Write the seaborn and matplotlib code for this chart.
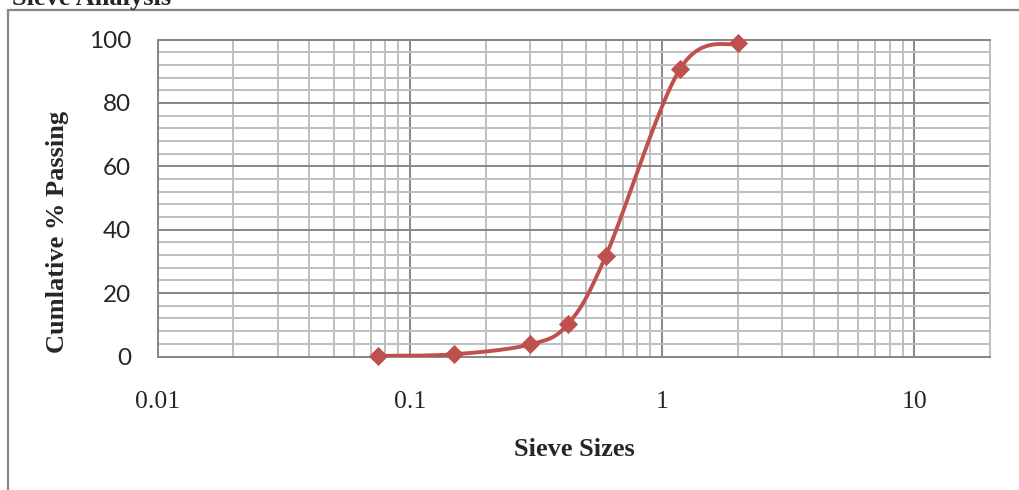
import numpy as np
import matplotlib
matplotlib.use("Agg")
import matplotlib.pyplot as plt
import matplotlib.ticker as ticker
from matplotlib.patches import Rectangle
import seaborn as sns

# sieve analysis data
sieve_mm = [0.075, 0.15, 0.3, 0.425, 0.6, 1.18, 2.0]
passing = [0.2, 0.7, 3.8, 10.3, 31.8, 90.7, 98.8]
x_ticks = [0.01, 0.1, 1, 10]
y_ticks = [0, 20, 40, 60, 80, 100]

RED = "#c0504d"
MAJ = "#878787"
MIN = "#bfbfbf"
SERIF = "Liberation Serif"


def smooth_curve(xs, ys, n=40):
    # catmull-rom bezier in log-x space (like excel's "smoothed line")
    pts = np.column_stack([np.log10(xs), np.asarray(ys, float)])
    pts = np.vstack([pts[0], pts, pts[-1]])
    t = np.linspace(0, 1, n)[:, None]
    seg = []
    for i in range(1, len(pts) - 2):
        p0, p1, p2, p3 = pts[i - 1], pts[i], pts[i + 1], pts[i + 2]
        b1 = p1 + (p2 - p0) / 6
        b2 = p2 - (p3 - p1) / 6
        c = ((1 - t) ** 3) * p1 + 3 * ((1 - t) ** 2) * t * b1 + 3 * (1 - t) * t ** 2 * b2 + t ** 3 * p2
        seg.append(c if i == 1 else c[1:])
    c = np.vstack(seg)
    return 10 ** c[:, 0], c[:, 1]


sns.set_style("white")
plt.rcParams["font.family"] = ["Lato", "DejaVu Sans"]

fig = plt.figure(figsize=(10.2, 4.9), dpi=100)
ax = fig.add_axes([157.5 / 1020, 1 - 356.5 / 490, (990 - 157.5) / 1020, (356.5 - 39.5) / 490])

ax.set_xscale("log")
ax.set_xlim(0.01, 20)
ax.set_ylim(0, 100)

ax.xaxis.set_major_locator(ticker.FixedLocator(x_ticks))
ax.xaxis.set_minor_locator(ticker.LogLocator(base=10, subs=np.arange(2, 10)))
ax.xaxis.set_major_formatter(ticker.FuncFormatter(lambda v, p: f"{v:g}"))
ax.xaxis.set_minor_formatter(ticker.NullFormatter())
ax.yaxis.set_major_locator(ticker.FixedLocator(y_ticks))
ax.yaxis.set_minor_locator(ticker.MultipleLocator(4))

ax.grid(which="minor", color=MIN, lw=1.4)
ax.grid(which="major", color=MAJ, lw=1.4)
ax.set_axisbelow(True)
ax.tick_params(which="both", length=0)
ax.tick_params(axis="y", pad=19, labelsize=17.5)
ax.tick_params(axis="x", pad=25, labelsize=18.5)
for lab in ax.get_xticklabels():
    lab.set_fontfamily(SERIF)

for s in ["left", "bottom", "top"]:
    ax.spines[s].set_color(MAJ)
    ax.spines[s].set_linewidth(1.4)
ax.spines["right"].set_color(MIN)
ax.spines["right"].set_linewidth(1.4)

cx, cy = smooth_curve(sieve_mm, passing)
sns.lineplot(x=cx, y=cy, sort=False, color=RED, lw=2.8, ax=ax, zorder=3)
sns.scatterplot(x=sieve_mm, y=passing, marker="D", s=95, color=RED,
                edgecolor=RED, linewidth=0, ax=ax, zorder=4, clip_on=False)

fig.text(574 / 1020, 1 - 449 / 490, "Sieve Sizes", ha="center", va="center",
         family=SERIF, fontweight="bold", fontsize=19)
fig.text(57.5 / 1020, 1 - 231.5 / 490, "Cumlative % Passing", ha="center", va="center",
         rotation=90, family=SERIF, fontweight="bold", fontsize=19)
# chart title, partly above the top edge as in the original screenshot
fig.text(12 / 1020, 1 - 4.5 / 490, "Sieve Analysis", ha="left", va="baseline",
         family=SERIF, fontweight="bold", fontsize=19)

# outer chart frame (runs off the right / bottom edges)
fig.patches.append(Rectangle((8 / 1020, -0.1), 1.2, 1.1 - 10.5 / 490, transform=fig.transFigure,
                             fill=False, ec=MAJ, lw=1.6))

fig.savefig("out.png", dpi=100, facecolor="white")
